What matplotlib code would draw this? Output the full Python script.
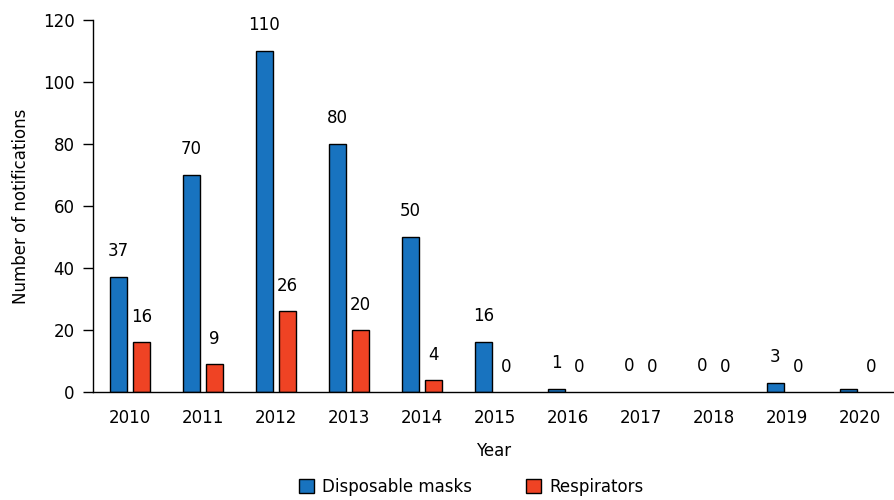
import matplotlib
matplotlib.use("Agg")
import matplotlib.pyplot as plt
import numpy as np

years = ["2010", "2011", "2012", "2013", "2014", "2015", "2016", "2017", "2018", "2019", "2020"]
masks = [37, 70, 110, 80, 50, 16, 1, 0, 0, 3, 1]
mask_labels = ["37", "70", "110", "80", "50", "16", "1", "0", "0", "3", ""]
respirators = [16, 9, 26, 20, 4, 0, 0, 0, 0, 0, 0]
resp_labels = ["16", "9", "26", "20", "4", "0", "0", "0", "0", "0", "0"]
yticks = [0, 20, 40, 60, 80, 100, 120]

plt.rcParams['font.family'] = ['DejaVu Sans']
fs = 12

fig = plt.figure(figsize=(8.94, 5.0), dpi=100)
ax = fig.add_axes([0.104, 0.216, 0.896, 0.744])

x = np.arange(len(years))
w = 0.233
off = 0.158
blue = "#1873bf"
red = "#ef4324"
b1 = ax.bar(x - off, masks, w, color=blue, edgecolor="black",
            linewidth=[1 if v > 0 else 0 for v in masks], label="Disposable masks")
b2 = ax.bar(x + off, respirators, w, color=red, edgecolor="black",
            linewidth=[1 if v > 0 else 0 for v in respirators], label="Respirators")

for xi, v, lab in zip(x, masks, mask_labels):
    if lab:
        ax.annotate(lab, (xi - off, v), xytext=(0, 26), textcoords="offset pixels",
                    ha="center", va="center", fontsize=fs)
for xi, v, lab in zip(x, respirators, resp_labels):
    if lab:
        ax.annotate(lab, (xi + off, v), xytext=(0, 25), textcoords="offset pixels",
                    ha="center", va="center", fontsize=fs)

ax.set_xlim(-0.507, 10.47)
ax.set_ylim(0, 120)
ax.set_yticks(yticks)
ax.set_xticks(x)
ax.set_xticklabels(years)
ax.tick_params(axis="x", length=0, pad=12, labelsize=fs)
ax.tick_params(axis="y", length=7.2, width=1, pad=6, labelsize=fs)
for s in ["top", "right"]:
    ax.spines[s].set_visible(False)
ax.spines["left"].set_linewidth(1)
ax.spines["bottom"].set_linewidth(1)
ax.set_xlabel("Year", fontsize=fs, labelpad=11)
ax.set_ylabel("Number of notifications", fontsize=fs, labelpad=9)

fig.legend(handles=[b1, b2], loc="center", bbox_to_anchor=(0.527, 0.026), ncol=2,
           frameon=False, fontsize=fs, handlelength=0.9, handleheight=0.9,
           columnspacing=3.2, handletextpad=0.5)

fig.savefig("out.png", dpi=100)
